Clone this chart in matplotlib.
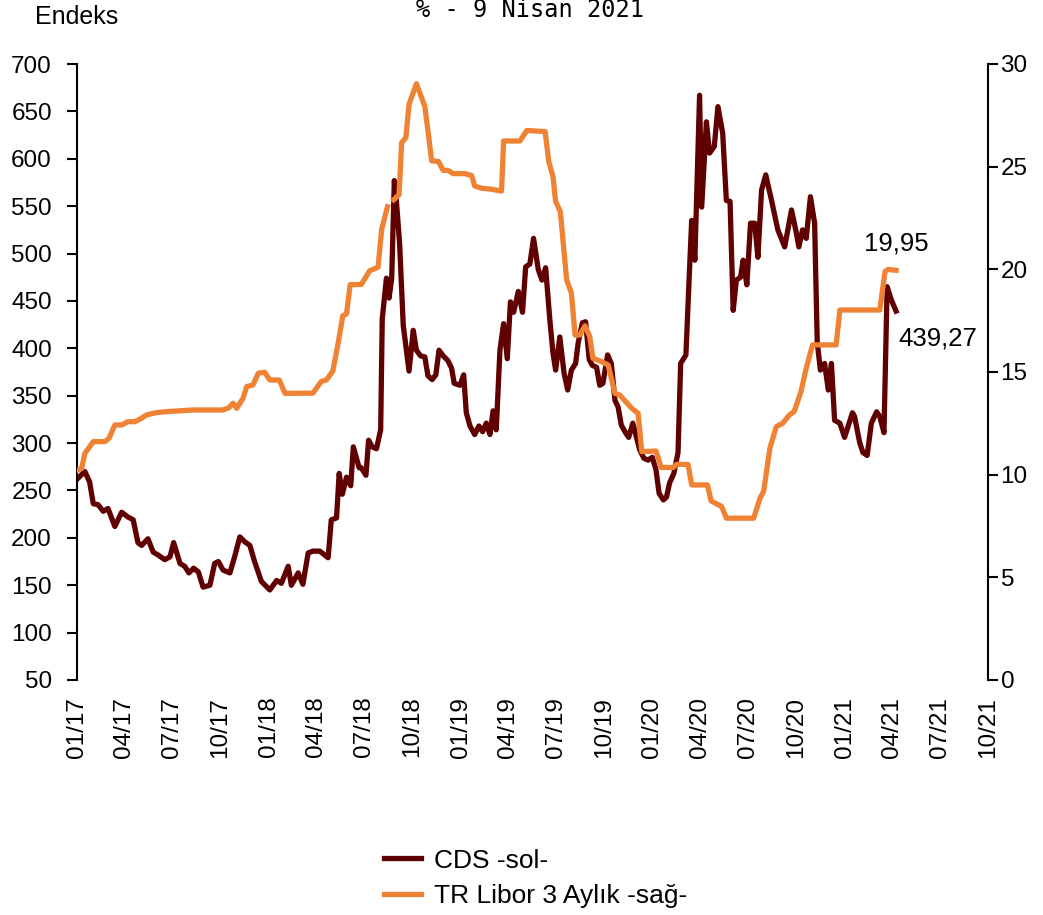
import numpy as np
import pandas as pd
import matplotlib
matplotlib.use('Agg')
import matplotlib.pyplot as plt

plt.rcParams['font.family'] = ['Liberation Sans', 'DejaVu Sans']

# CDS (sol eksen), haftalik degerler
cds_dates = [
    "2017-01-03", "2017-01-16", "2017-01-25", "2017-02-01", "2017-02-10", "2017-02-20",
    "2017-03-01", "2017-03-14", "2017-03-27", "2017-04-08", "2017-04-18", "2017-04-27",
    "2017-05-04", "2017-05-16", "2017-05-26", "2017-06-04", "2017-06-17", "2017-06-27",
    "2017-07-04", "2017-07-16", "2017-07-25", "2017-08-02", "2017-08-11", "2017-08-20",
    "2017-08-29", "2017-09-11", "2017-09-20", "2017-09-27", "2017-10-06", "2017-10-19",
    "2017-10-28", "2017-11-07", "2017-11-16", "2017-11-26", "2017-12-05", "2017-12-18",
    "2018-01-03", "2018-01-16", "2018-01-25", "2018-02-07", "2018-02-13", "2018-02-26",
    "2018-03-07", "2018-03-17", "2018-03-26", "2018-04-08", "2018-04-24", "2018-04-30",
    "2018-05-10", "2018-05-15", "2018-05-21", "2018-05-29", "2018-06-06", "2018-06-11",
    "2018-06-22", "2018-06-26", "2018-07-05", "2018-07-10", "2018-07-17", "2018-07-25",
    "2018-08-02", "2018-08-05", "2018-08-13", "2018-08-18", "2018-08-23", "2018-08-28",
    "2018-09-01", "2018-09-07", "2018-09-14", "2018-09-20", "2018-09-25", "2018-10-03",
    "2018-10-09", "2018-10-17", "2018-10-25", "2018-10-31", "2018-11-08", "2018-11-15",
    "2018-11-21", "2018-11-29", "2018-12-08", "2018-12-15", "2018-12-20", "2018-12-31",
    "2019-01-07", "2019-01-12", "2019-01-19", "2019-01-28", "2019-02-05", "2019-02-12",
    "2019-02-19", "2019-02-26", "2019-03-04", "2019-03-10", "2019-03-17", "2019-03-24",
    "2019-03-31", "2019-04-06", "2019-04-12", "2019-04-21", "2019-04-29", "2019-05-05",
    "2019-05-13", "2019-05-20", "2019-05-29", "2019-06-05", "2019-06-12", "2019-06-20",
    "2019-06-26", "2019-07-01", "2019-07-09", "2019-07-17", "2019-07-24", "2019-07-31",
    "2019-08-08", "2019-08-13", "2019-08-21", "2019-08-27", "2019-09-03", "2019-09-09",
    "2019-09-17", "2019-09-23", "2019-09-29", "2019-10-08", "2019-10-15", "2019-10-22",
    "2019-10-28", "2019-11-03", "2019-11-10", "2019-11-17", "2019-11-25", "2019-12-02",
    "2019-12-08", "2019-12-16", "2019-12-24", "2020-01-01", "2020-01-08", "2020-01-14",
    "2020-01-22", "2020-01-28", "2020-02-03", "2020-02-11", "2020-02-19", "2020-02-24",
    "2020-03-05", "2020-03-11", "2020-03-16", "2020-03-22", "2020-03-31", "2020-04-04",
    "2020-04-13", "2020-04-19", "2020-04-28", "2020-05-05", "2020-05-14", "2020-05-21",
    "2020-05-28", "2020-06-03", "2020-06-09", "2020-06-17", "2020-06-22", "2020-06-29",
    "2020-07-06", "2020-07-14", "2020-07-20", "2020-07-27", "2020-08-04", "2020-08-15",
    "2020-08-27", "2020-09-09", "2020-09-22", "2020-09-30", "2020-10-06", "2020-10-13",
    "2020-10-20", "2020-10-28", "2020-11-05", "2020-11-10", "2020-11-16", "2020-11-24",
    "2020-12-01", "2020-12-07", "2020-12-13", "2020-12-23", "2021-01-01", "2021-01-16",
    "2021-01-20", "2021-01-30", "2021-02-05", "2021-02-13", "2021-02-21", "2021-03-03",
    "2021-03-09", "2021-03-17", "2021-03-23", "2021-03-31", "2021-04-09",
]
cds_values = [
    263, 270, 259, 236, 235, 228,
    231, 212, 227, 222, 219, 195,
    192, 199, 185, 182, 177, 180,
    195, 173, 170, 163, 168, 164,
    148, 150, 173, 175, 166, 163,
    180, 201, 196, 192, 175, 154,
    145, 155, 152, 170, 150, 163,
    151, 184, 186, 186, 179, 219,
    221, 268, 246, 264, 255, 296,
    274, 274, 266, 303, 296, 294,
    314, 431, 474, 453, 474, 577,
    555, 511, 424, 398, 376, 419,
    398, 392, 391, 371, 367, 372,
    398, 392, 387, 379, 363, 361,
    372, 332, 318, 309, 318, 312,
    321, 309, 334, 314, 398, 426,
    389, 449, 438, 460, 438, 486,
    489, 516, 483, 472, 485, 430,
    395, 377, 412, 374, 356, 377,
    384, 406, 427, 428, 388, 382,
    380, 361, 363, 393, 384, 345,
    338, 319, 312, 306, 321, 306,
    293, 284, 282, 285, 272, 247,
    240, 243, 258, 268, 290, 384,
    393, 472, 535, 493, 667, 549,
    639, 606, 613, 655, 627, 556,
    555, 440, 472, 475, 493, 467,
    532, 532, 496, 567, 583, 556,
    525, 507, 546, 525, 507, 525,
    516, 560, 532, 406, 377, 384,
    356, 384, 324, 321, 306, 332,
    328, 300, 290, 287, 321, 333,
    328, 311, 465, 451, 439.27,
]

# TR Libor 3 aylik (sag eksen), NaN = veri yok
libor_dates = [
    "2017-01-03", "2017-01-10", "2017-01-16", "2017-02-01", "2017-02-23", "2017-03-03",
    "2017-03-14", "2017-03-27", "2017-04-08", "2017-04-21", "2017-05-04", "2017-05-13",
    "2017-06-01", "2017-06-20", "2017-07-09", "2017-08-10", "2017-10-06", "2017-10-17",
    "2017-10-25", "2017-11-01", "2017-11-13", "2017-11-20", "2017-12-02", "2017-12-12",
    "2017-12-24", "2018-01-03", "2018-01-21", "2018-02-01", "2018-03-26", "2018-04-11",
    "2018-04-21", "2018-05-03", "2018-05-13", "2018-05-22", "2018-05-29", "2018-06-05",
    "2018-06-26", "2018-07-12", "2018-07-28", "2018-08-04", "2018-08-15", "2018-08-20",
    "2018-08-27", "2018-09-06", "2018-09-11", "2018-09-19", "2018-09-25", "2018-10-09",
    "2018-10-25", "2018-10-31", "2018-11-07", "2018-11-20", "2018-11-29", "2018-12-08",
    "2018-12-18", "2019-01-09", "2019-01-22", "2019-01-28", "2019-02-10", "2019-03-01",
    "2019-03-20", "2019-03-24", "2019-04-24", "2019-05-07", "2019-06-11", "2019-06-18",
    "2019-06-26", "2019-07-01", "2019-07-10", "2019-07-22", "2019-07-31", "2019-08-07",
    "2019-08-16", "2019-08-26", "2019-09-04", "2019-09-10", "2019-09-26", "2019-10-09",
    "2019-10-22", "2019-10-31", "2019-11-23", "2019-12-05", "2019-12-12", "2020-01-08",
    "2020-01-18", "2020-02-10", "2020-02-16", "2020-03-09", "2020-03-16", "2020-04-15",
    "2020-04-22", "2020-05-12", "2020-05-21", "2020-07-12", "2020-07-24", "2020-07-31",
    "2020-08-12", "2020-08-24", "2020-09-05", "2020-09-18", "2020-09-27", "2020-10-10",
    "2020-10-20", "2020-11-01", "2020-12-16", "2020-12-23", "2021-03-09", "2021-03-19",
    "2021-03-25", "2021-04-09",
]
libor_values = [
    10.23, 10.31, 11.04, 11.61, 11.61, 11.77,
    12.42, 12.42, 12.58, 12.58, 12.75, 12.91,
    13.02, 13.07, 13.10, 13.15, 13.15, 13.26,
    13.48, 13.23, 13.72, 14.29, 14.37, 14.94,
    14.99, 14.61, 14.61, 13.96, 13.97, 14.54,
    14.62, 15.05, 16.40, 17.74, 17.83, 19.26,
    19.26, 19.93, 20.10, 21.96, 23.05, np.nan,
    23.39, 23.64, 26.17, 26.42, 28.03, 29.04,
    27.94, 26.76, 25.29, 25.25, 24.82, 24.82,
    24.66, 24.66, 24.57, 24.06, 23.95, 23.90,
    23.81, 26.25, 26.25, 26.76, 26.71, 25.25,
    24.52, 23.30, 22.81, 19.48, 18.85, 16.80,
    16.80, 17.25, 16.72, 15.67, 15.51, 15.34,
    13.96, 13.88, 13.23, 12.99, 11.12, 11.15,
    10.35, 10.35, 10.50, 10.50, 9.50, 9.50,
    8.72, 8.45, 7.88, 7.88, 8.85, 9.20,
    11.30, 12.34, 12.50, 12.91, 13.07, 14.04,
    15.18, 16.32, 16.32, 18.02, 18.02, 19.89,
    20.00, 19.95,
]

cds_color = '#600000'
libor_color = '#F08234'

cds = pd.Series(cds_values, index=pd.to_datetime(cds_dates))
libor = pd.Series(libor_values, index=pd.to_datetime(libor_dates))

fig = plt.figure(figsize=(10.43, 9.15), dpi=100)
ax = fig.add_axes([77 / 1043, 1 - 680 / 915, 911 / 1043, 616 / 915])
ax2 = ax.twinx()

l1, = ax.plot(cds.index, cds.values, color=cds_color, lw=3.8, solid_joinstyle='round')
l2, = ax2.plot(libor.index, libor.values, color=libor_color, lw=3.8, solid_joinstyle='round')

xticks = pd.date_range('2017-01-01', '2021-10-01', freq='QS')
ax.set_xlim(xticks[0], xticks[-1])
ax.set_xticks(xticks)
ax.set_xticklabels([d.strftime('%m/%y') for d in xticks], rotation=90, fontsize=17.5)
ax.tick_params(axis='x', length=0, pad=12)

ax.set_ylim(50, 700)
ax.set_yticks(np.arange(50, 701, 50))
ax.tick_params(axis='y', direction='out', length=7, width=1.5, labelsize=17.5, pad=11)
ax2.set_ylim(0, 30)
ax2.set_yticks(np.arange(0, 31, 5))
ax2.tick_params(axis='y', direction='out', length=7, width=1.5, labelsize=17.5, pad=2)

for a in (ax, ax2):
    a.spines['top'].set_visible(False)
    a.spines['bottom'].set_visible(False)
ax.spines['right'].set_visible(False)
ax2.spines['left'].set_visible(False)
ax.spines['left'].set_linewidth(1.5)
ax2.spines['right'].set_linewidth(1.5)

# son deger etiketleri
ax2.annotate('19,95', xy=(libor.index[-1], libor.values[-1]), xytext=(0, 19),
             textcoords='offset points', ha='center', va='center', fontsize=18.5)
ax.annotate('439,27', xy=(cds.index[-1], cds.values[-1]), xytext=(30, -20),
            textcoords='offset points', ha='center', va='center', fontsize=18.5)

fig.text(35 / 1043, 1 - 17 / 915, 'Endeks', fontsize=18, va='center', ha='left')
fig.text(530 / 1043, 1 - 17 / 915, '% - 9 Nisan 2021', fontsize=17, va='baseline', ha='center',
         family='DejaVu Sans Mono')

fig.legend([l1, l2], ['CDS -sol-', 'TR Libor 3 Aylık -sağ-'], loc='upper left',
           bbox_to_anchor=(373 / 1043, 1 - 838 / 915), frameon=False, fontsize=19,
           handlelength=1.4, handletextpad=0.5, labelspacing=0.45, borderaxespad=0)

fig.savefig('out.png', dpi=100)
